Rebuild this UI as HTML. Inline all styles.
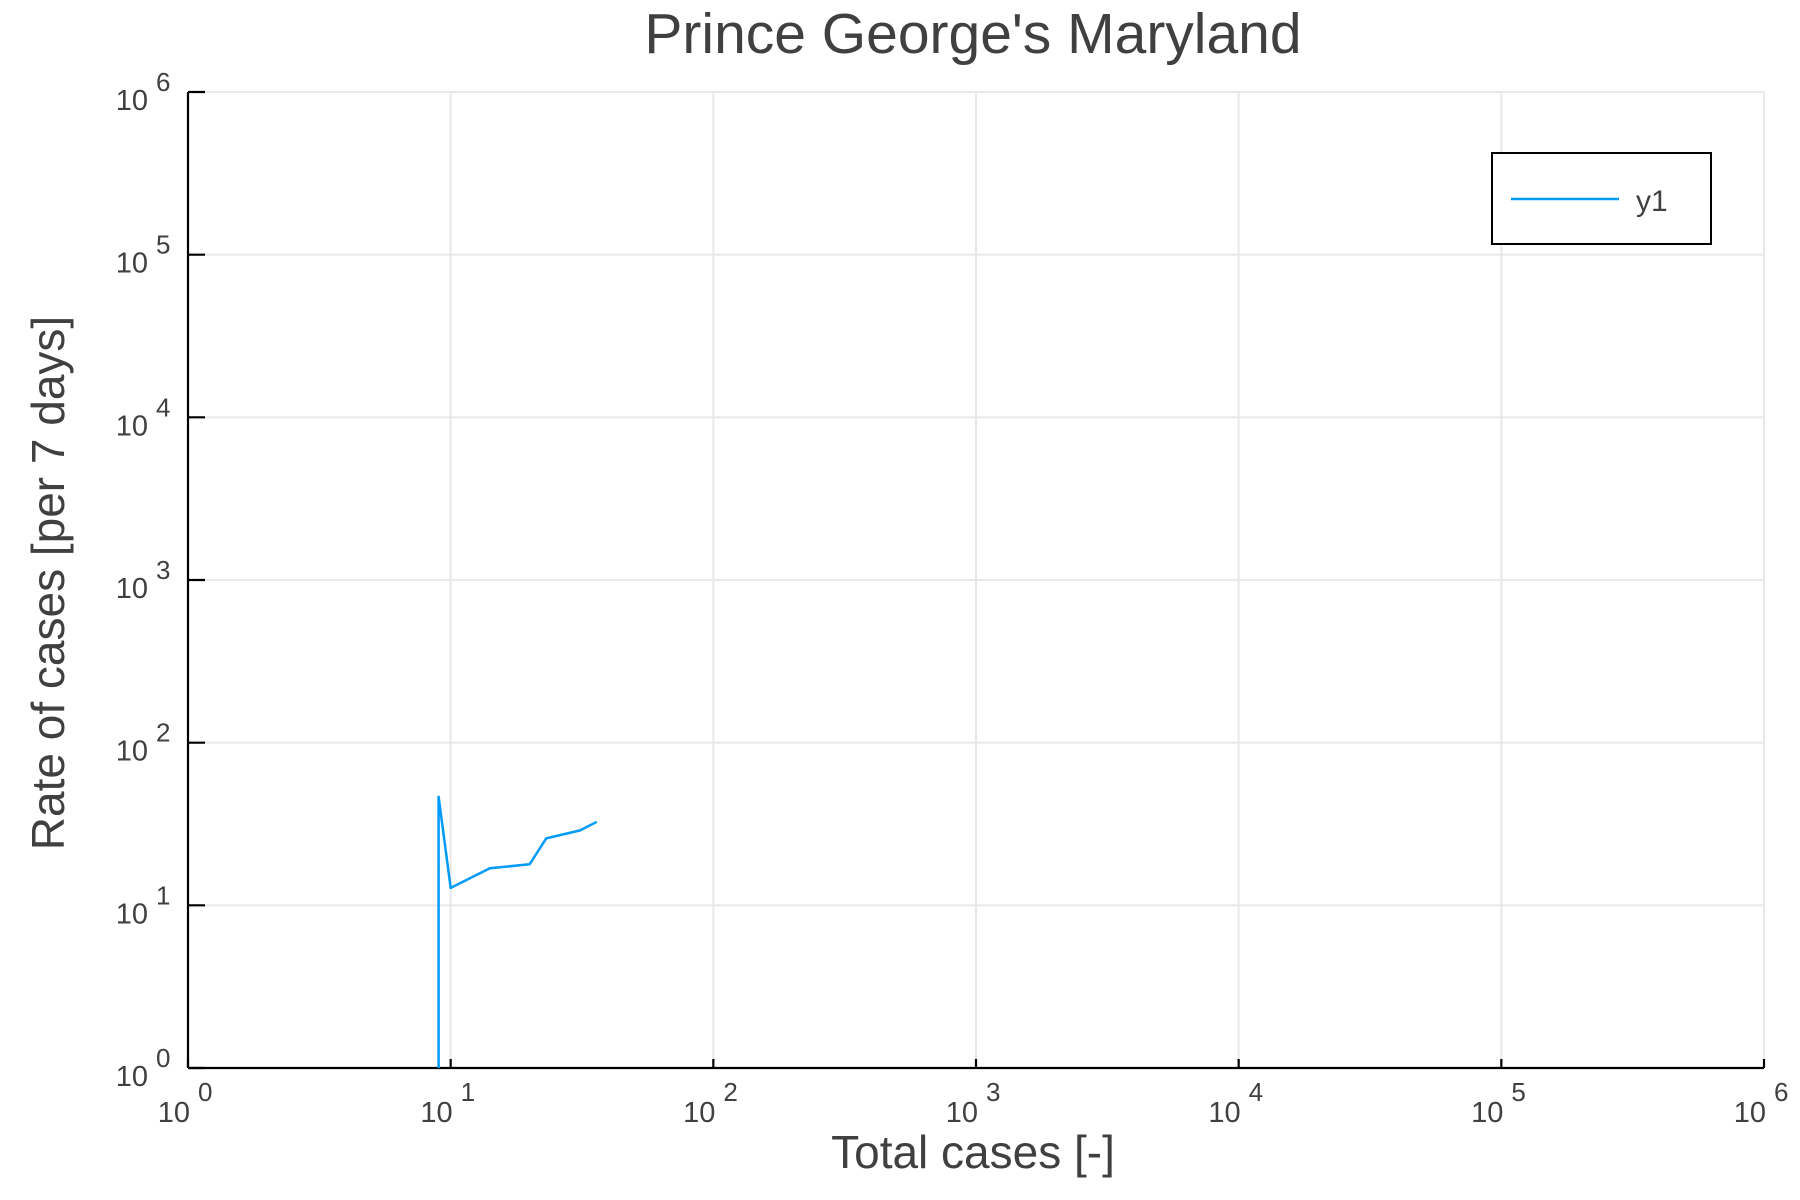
<!DOCTYPE html>
<html><head><meta charset="utf-8"><style>
html,body{margin:0;padding:0;background:#fff;}
svg{display:block;font-family:"Liberation Sans",sans-serif;}
</style></head><body>
<svg id="chart" width="1800" height="1200" viewBox="0 0 1800 1200">
<rect x="0" y="0" width="1800" height="1200" fill="#fff"/>
<text x="973" y="53" text-anchor="middle" font-size="57" fill="#404040">Prince George's Maryland</text>
<g id="grid"></g>
<g id="ticks"></g>
<line x1="188" y1="92" x2="188" y2="1068" stroke="#000" stroke-width="2.2"/>
<line x1="188" y1="1068" x2="1764" y2="1068" stroke="#000" stroke-width="2.2"/>
<g id="series"></g>
<text x="973" y="1168" text-anchor="middle" font-size="46" fill="#404040">Total cases [-]</text>
<text transform="translate(64,583) rotate(-90)" text-anchor="middle" font-size="46" fill="#404040">Rate of cases [per 7 days]</text>
<g>
<rect x="1492" y="153" width="219" height="91" fill="#fff" stroke="#000" stroke-width="2"/>
<line x1="1511" y1="199" x2="1619" y2="199" stroke="#009af9" stroke-width="2.5"/>
<text x="1636" y="211" font-size="30" fill="#404040">y1</text>
</g>
</svg>
<script>
const xValues = [9, 9, 10, 14.1, 20, 23.1, 31.1, 36];
const yValues = [1, 46.5, 12.8, 16.9, 17.9, 25.8, 28.9, 32.6];
const xTickExps = [0, 1, 2, 3, 4, 5, 6];
const yTickExps = [0, 1, 2, 3, 4, 5, 6];
const L=188,R=1764,T=92,B=1068;
function sx(v){return L+(Math.log10(v)-0)/6*(R-L);}
function sy(v){return B-(Math.log10(v)-0)/6*(B-T);}
const NS="http://www.w3.org/2000/svg";
const grid=document.getElementById('grid'),ticks=document.getElementById('ticks'),series=document.getElementById('series');
function mk(tag,attrs,parent){const e=document.createElementNS(NS,tag);for(const k in attrs)e.setAttribute(k,attrs[k]);parent.appendChild(e);return e;}
xTickExps.forEach(function(k){
  const x=sx(Math.pow(10,k));
  const g=mk('line',{x1:x,y1:T,x2:x,y2:B,stroke:'#e8e8e8','stroke-width':2},grid);
  
  
  const t=mk('line',{x1:x,y1:B,x2:x,y2:B-9,stroke:'#000','stroke-width':2.2},ticks);
  
  
  const lb=mk('text',{x:x+2,y:1122,'text-anchor':'end','font-size':29,fill:'#404040'},ticks);
  lb.textContent='10';
  
  
  const sp=mk('text',{x:x+10,y:1101,'font-size':26,fill:'#404040'},ticks);
  sp.textContent=String(k);
  
  
});
yTickExps.forEach(function(k){
  const y=sy(Math.pow(10,k));
  const g=mk('line',{x1:L,y1:y,x2:R,y2:y,stroke:'#e8e8e8','stroke-width':2},grid);
  
  
  const t=mk('line',{x1:L,y1:y,x2:L+17,y2:y,stroke:'#000','stroke-width':2.2},ticks);
  
  
  const lb=mk('text',{x:148,y:y+18,'text-anchor':'end','font-size':29,fill:'#404040'},ticks);
  lb.textContent='10';
  
  
  const sp=mk('text',{x:156,y:y-1,'font-size':26,fill:'#404040'},ticks);
  sp.textContent=String(k);
  
  
});
const pts=xValues.map(function(v,i){return sx(v).toFixed(1)+','+sy(yValues[i]).toFixed(1);}).join(' ');
const pl=mk('polyline',{points:pts,fill:'none',stroke:'#009af9','stroke-width':2.5,'stroke-linejoin':'round'},series);


</script>
</body></html>
